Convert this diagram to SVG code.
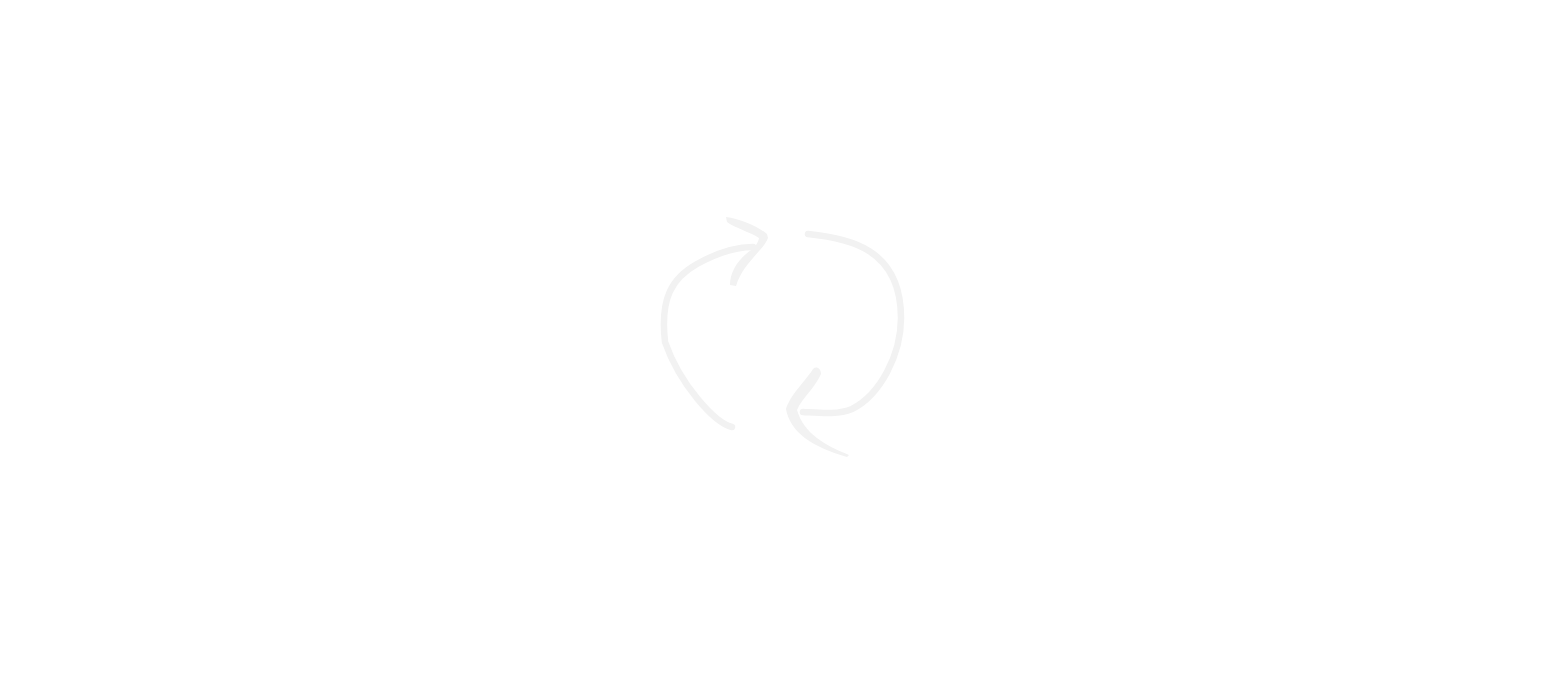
<svg xmlns="http://www.w3.org/2000/svg" width="1563" height="679" viewBox="0 0 1563 679">
<style>
.s{fill:none;stroke:#f2f2f2;stroke-width:6.5;stroke-linecap:round;stroke-linejoin:round}
.h{fill:#f2f2f2;stroke:none}
</style>
<rect width="1563" height="679" fill="#ffffff"/>
<g id="connectors">
<g id="arrow-left">
<path class="s" d="M732 427C715 423 680 385 665 342C660 298 672 278 697 264C715 254 735 247 753 247"/>
<path class="h" d="M726 217C740 219 756 225 767 234L768 238C763 251 743 263 736 286L730 285C730 270 740 257 754 248C757 244 759 240 759 238C750 232 735 228 727 222Z"/>
</g>
<g id="arrow-right">
<path class="s" d="M808 234C848 238 901 248 901 318C901 355 880 395 852 409C838 415 820 413 803 412"/>
<path class="h" d="M813 369C808 378 790 395 786 409C790 432 812 447 847 457L849 455C825 445 804 434 797 410C802 398 815 388 821 374C821 368 816 366 813 369Z"/>
</g>
</g>
</svg>
